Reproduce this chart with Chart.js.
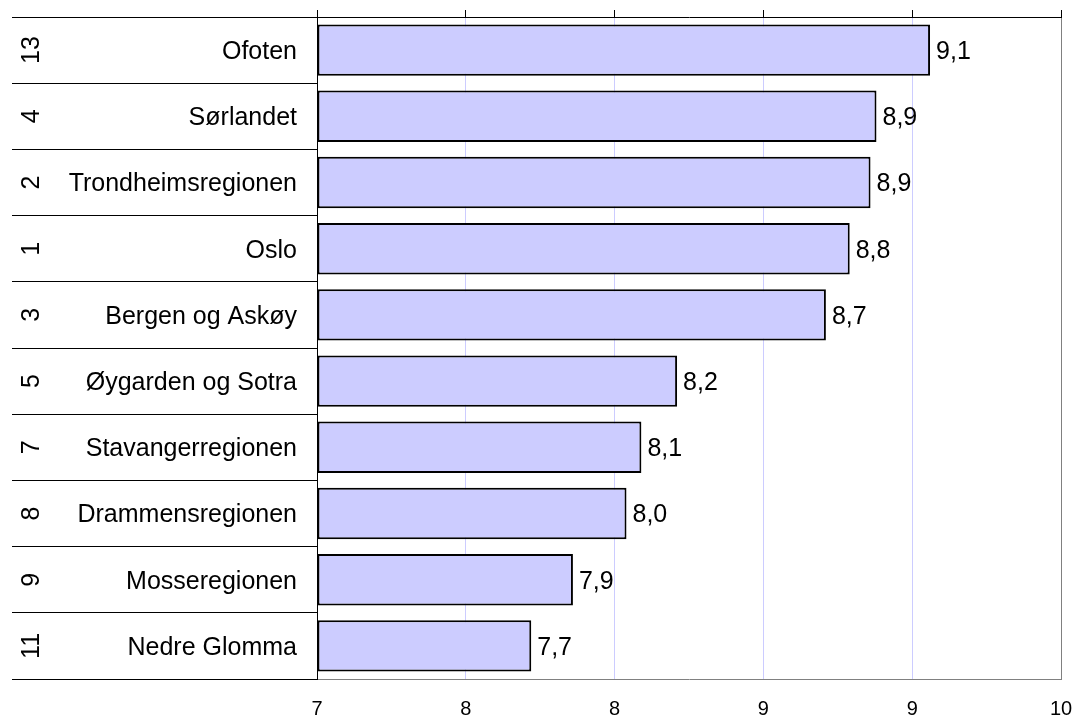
<!DOCTYPE html>
<html>
<head>
<meta charset="utf-8">
<script src="https://cdn.jsdelivr.net/npm/chart.js@4"></script>
<style>
  html, body { margin: 0; padding: 0; background: #fff; }
</style>
</head>
<body>
<canvas id="chart" width="1073" height="718"></canvas>
<script>
// Region names and their rank numbers (top to bottom)
const regionNames = ['Ofoten', 'Sørlandet', 'Trondheimsregionen', 'Oslo', 'Bergen og Askøy',
    'Øygarden og Sotra', 'Stavangerregionen', 'Drammensregionen', 'Mosseregionen', 'Nedre Glomma'];
const regionNumbers = ['13', '4', '2', '1', '3', '5', '7', '8', '9', '11'];

// Scores
const scores = [9.06, 8.88, 8.86, 8.79, 8.71, 8.21, 8.09, 8.04, 7.86, 7.72];

// Value axis: 7 to 9.5 in steps of 0.5, labels shown without decimals
const axisMin = 7;
const axisMax = 9.5;
const axisStep = 0.5;
const tickLabels = ['7', '8', '8', '9', '9', '10'];

const FONT = '"Liberation Sans", Arial, sans-serif';
Chart.defaults.font.family = FONT;
Chart.defaults.color = '#000';

// Value labels to the right of each bar
const valueLabels = {
    id: 'valueLabels',
    afterDatasetsDraw(chart) {
        const ctx = chart.ctx;
        const meta = chart.getDatasetMeta(0);
        ctx.save();
        ctx.font = '25px ' + FONT;
        ctx.fillStyle = '#000';
        ctx.textAlign = 'left';
        ctx.textBaseline = 'middle';
        meta.data.forEach((bar, i) => {
            ctx.fillText(scores[i].toFixed(1).replace('.', ','), bar.x + 6, bar.y + 2);
        });
        ctx.restore();
    }
};

const noPad = s => { s.paddingLeft = 0; s.paddingRight = 0; s.paddingTop = 0; s.paddingBottom = 0; };

new Chart(document.getElementById('chart'), {
    type: 'bar',
    data: {
        labels: regionNames,
        datasets: [{
            data: scores,
            base: axisMin,
            backgroundColor: '#ccccff',
            borderColor: '#000',
            borderWidth: 2,
            borderSkipped: false,
            barPercentage: 1,
            categoryPercentage: 0.777,
            xAxisID: 'x',
            yAxisID: 'y'
        }]
    },
    options: {
        indexAxis: 'y',
        responsive: false,
        animation: false,
        devicePixelRatio: 1,
        layout: { padding: { top: 10, left: 12, right: 12, bottom: 0 } },
        plugins: {
            legend: { display: false },
            tooltip: { enabled: false }
        },
        scales: {
            x: {
                type: 'linear',
                position: 'bottom',
                min: axisMin,
                max: axisMax,
                ticks: {
                    stepSize: axisStep,
                    font: { size: 20 },
                    padding: 18,
                    maxRotation: 0,
                    callback: (value, index) => tickLabels[index]
                },
                grid: {
                    drawTicks: false,
                    lineWidth: 1,
                    color: ctx => ctx.index === 0 ? '#000'
                        : ctx.index === tickLabels.length - 1 ? '#808080' : '#ccccff'
                },
                border: { color: '#808080', width: 1 },
                afterFit: s => { s.height = 39; noPad(s); }
            },
            xTop: {
                type: 'linear',
                position: 'top',
                min: axisMin,
                max: axisMax,
                ticks: { display: false, stepSize: axisStep },
                grid: { drawOnChartArea: false, tickLength: 7, color: '#000' },
                border: { color: '#000', width: 1 },
                afterFit: s => { s.height = 7; noPad(s); }
            },
            y: {
                type: 'category',
                position: 'left',
                offset: true,
                ticks: { font: { size: 25 }, padding: -285, labelOffset: 2, crossAlign: 'near', autoSkip: false },
                grid: { offset: true, drawOnChartArea: false, tickLength: 305, color: '#000' },
                border: { color: '#000', width: 1 },
                afterFit: s => { s.width = 305; noPad(s); }
            },
            yNum: {
                type: 'category',
                position: 'left',
                weight: 1,
                offset: true,
                labels: regionNumbers,
                ticks: {
                    mirror: true,
                    crossAlign: 'center',
                    minRotation: 90,
                    maxRotation: 90,
                    padding: 6,
                    autoSkip: false,
                    font: { size: 25 }
                },
                grid: { display: false },
                border: { display: false },
                afterFit: s => { s.width = 0; noPad(s); }
            }
        }
    },
    plugins: [valueLabels]
});
</script>
</body>
</html>
